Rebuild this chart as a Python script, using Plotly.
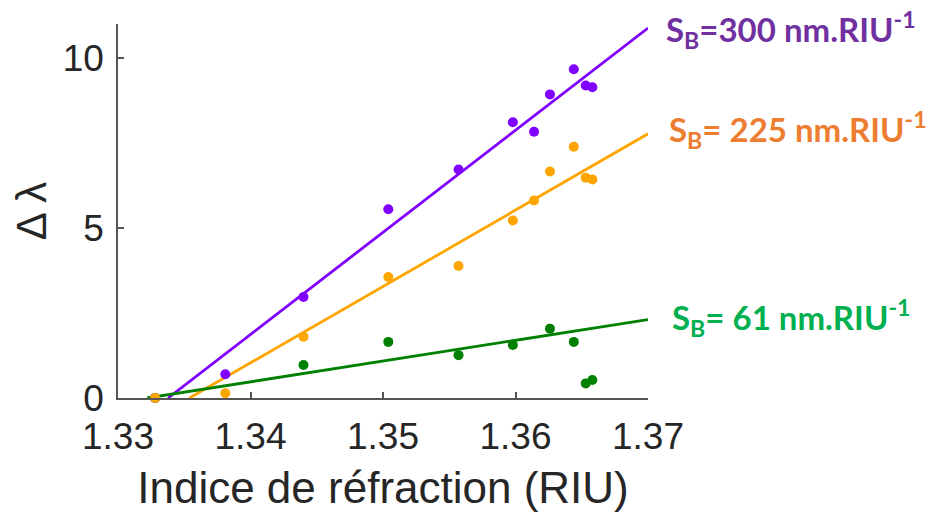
import numpy as np
import plotly.graph_objects as go

# Data (Δλ in nm vs refractive index)
n_purple = [1.3328, 1.3381, 1.3440, 1.3504, 1.3557, 1.3598, 1.3614, 1.3626, 1.3644, 1.3653, 1.3658]
d_purple = [0.0, 0.70, 2.97, 5.55, 6.72, 8.11, 7.83, 8.93, 9.67, 9.19, 9.14]

n_orange = [1.3328, 1.3381, 1.3440, 1.3504, 1.3557, 1.3598, 1.3614, 1.3626, 1.3644, 1.3653, 1.3658]
d_orange = [0.0, 0.14, 1.80, 3.56, 3.88, 5.22, 5.81, 6.66, 7.39, 6.48, 6.43]

n_green = [1.3328, 1.3440, 1.3504, 1.3557, 1.3598, 1.3626, 1.3644, 1.3653, 1.3658]
d_green = [0.0, 0.97, 1.65, 1.26, 1.56, 2.04, 1.65, 0.43, 0.53]

# Linear fits: slope (nm/RIU) and x-intercept (RIU)
fit_slopes = [300.4, 224.5, 61.0]
fit_x0 = [1.33378, 1.33539, 1.3322]
fit_x1 = 1.37

labels = ["S<sub>B</sub>=300 nm.RIU<sup>-1</sup>",
          "S<sub>B</sub>= 225 nm.RIU<sup>-1</sup>",
          "S<sub>B</sub>= 61 nm.RIU<sup>-1</sup>"]

x_ticks = [1.33, 1.34, 1.35, 1.36, 1.37]
y_ticks = [0, 5, 10]

mark_colors = ["#7F00FF", "#FFA500", "#008000"]
label_colors = ["#7030A0", "#ED7D31", "#00B050"]

fig = go.Figure()
series = [(n_purple, d_purple), (n_orange, d_orange), (n_green, d_green)]
for i, (xs, ys) in enumerate(series):
    xl = np.array([fit_x0[i], fit_x1])
    yl = fit_slopes[i] * (xl - fit_x0[i])
    fig.add_trace(go.Scatter(x=xl, y=yl, mode="lines",
                             line=dict(color=mark_colors[i], width=2.8),
                             cliponaxis=False,
                             showlegend=False, hoverinfo="skip"))
for i in [0, 2, 1]:
    xs, ys = series[i]
    fig.add_trace(go.Scatter(x=xs, y=ys, mode="markers",
                             marker=dict(color=mark_colors[i], size=10, line=dict(width=0)),
                             cliponaxis=False, showlegend=False))

ann_y = [0.984, 0.717, 0.214]
ann_x = [1.030, 1.035, 1.042]
for i in range(3):
    fig.add_annotation(xref="paper", yref="paper", x=ann_x[i], y=ann_y[i],
                       text="<b>" + labels[i] + "</b>", showarrow=False,
                       xanchor="left", yanchor="middle",
                       font=dict(family="Lato", size=33, color=label_colors[i]))

tick_font = dict(family="Liberation Sans", size=37, color="#262626")
axis_common = dict(showline=True, linecolor="#555555", linewidth=1.5,
                   ticks="inside", ticklen=6, tickcolor="#555555", tickwidth=1.5,
                   showgrid=False, zeroline=False, mirror=False,
                   tickfont=tick_font)

fig.update_layout(
    width=943, height=520,
    margin=dict(l=110, r=303, t=16, b=130),
    paper_bgcolor="white", plot_bgcolor="white",
    xaxis=dict(range=[1.33, 1.37], tickvals=x_ticks,
               ticktext=[f"{v:.2f}" for v in x_ticks],
               ticklabelstandoff=5,
               title=dict(text="Indice de réfraction (RIU)",
                          font=dict(family="Liberation Sans", size=44, color="#262626"),
                          standoff=16),
               **axis_common),
    yaxis=dict(range=[0, 11], tickvals=y_ticks,
               ticktext=[str(v) for v in y_ticks],
               ticklabelstandoff=5,
               title=dict(text="Δ λ",
                          font=dict(family="Liberation Sans", size=42, color="#262626"),
                          standoff=12),
               **axis_common),
)

fig.write_html("out.html")
